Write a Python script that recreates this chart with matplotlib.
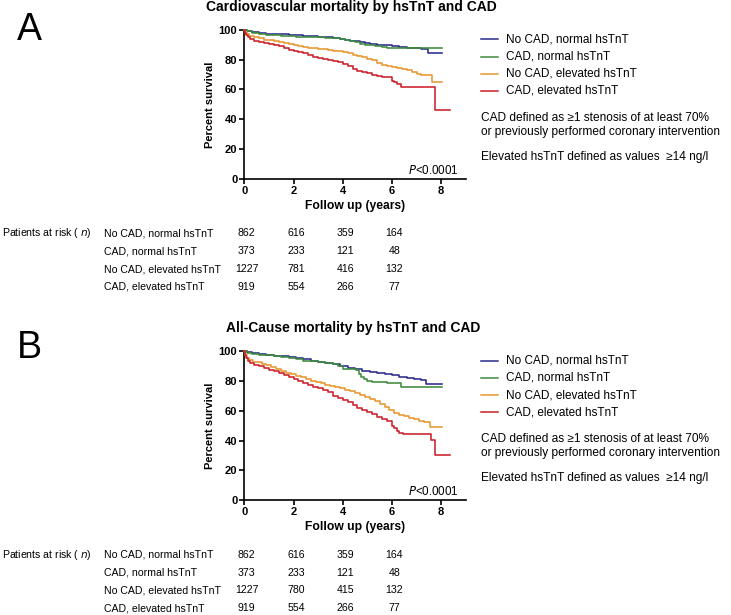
import matplotlib
matplotlib.use('Agg')
import matplotlib.pyplot as plt
from matplotlib.transforms import blended_transform_factory

plt.rcParams['font.family'] = ['Liberation Sans', 'DejaVu Sans']

W, H = 731, 615

# group names and colours
groups = ['No CAD, normal hsTnT', 'CAD, normal hsTnT',
          'No CAD, elevated hsTnT', 'CAD, elevated hsTnT']
colors = ['#2b2a8c', '#3d8b3d', '#e8962e', '#cc1f2b']

# panel A - cardiovascular mortality (time in years, percent survival)
blue_A_t = [0, .1, .3, .6, .9, 1.2, 1.5, 1.8, 2.1, 2.4, 2.7, 3.0, 3.3, 3.6, 3.9, 4.1, 4.3, 4.5, 4.7, 4.9,
            5.1, 5.4, 5.7, 6.0, 6.3, 6.6, 6.9, 7.2, 7.45, 8.05]
blue_A = [100, 99.2, 98.6, 98, 97.6, 97.3, 97.1, 96.9, 96.7, 96.3, 95.9, 95.5, 95.1, 94.7, 94.2, 93.6, 92.9,
          92.3, 91.6, 91.1, 90.6, 90.2, 89.7, 89.2, 88.7, 88.2, 87.6, 87.0, 84.4, 84.4]
green_A_t = [0, .1, .3, .6, .9, 1.2, 1.5, 1.8, 2.1, 2.4, 2.7, 3.0, 3.3, 3.6, 3.9, 4.1, 4.3, 4.5, 4.7, 4.9,
             5.3, 5.6, 5.8, 8.05]
green_A = [100, 99, 98.3, 97.5, 96.9, 96.4, 96, 95.7, 95.6, 95.5, 95.4, 95.2, 94.9, 94.5, 94, 93.4, 92.6,
           91.8, 90.9, 89.6, 89.2, 88.3, 87.8, 87.7]
orange_A_t = [0, .03, .1, .2, .4, .6, .8, 1.0, 1.2, 1.4, 1.6, 1.8, 2.0, 2.2, 2.4, 2.6, 2.8, 3.0, 3.2, 3.4,
              3.6, 3.8, 4.0, 4.2, 4.4, 4.6, 4.8, 5.0, 5.2, 5.4, 5.6, 5.8, 6.0, 6.2, 6.4, 6.6, 6.8, 7.0,
              7.2, 7.4, 7.65, 8.05]
orange_A = [100, 98.5, 97, 96, 95, 94.4, 93.6, 93, 92.3, 91.7, 91, 90.3, 89.8, 89.2, 88.7, 88.2, 87.7, 87.3,
            86.9, 86.5, 86.2, 85.8, 85.2, 84.3, 83.5, 82.6, 81.8, 80.8, 79.5, 78, 76.5, 75.6, 75.3, 74.6,
            73.5, 73, 72, 70.5, 69.8, 69.7, 65.2, 65.2]
red_A_t = [0, .03, .08, .15, .25, .4, .6, .8, 1.0, 1.2, 1.4, 1.6, 1.8, 2.0, 2.2, 2.4, 2.6, 2.8, 3.0, 3.2,
           3.4, 3.6, 3.8, 4.0, 4.2, 4.4, 4.6, 4.8, 5.0, 5.2, 5.4, 5.6, 5.8, 6.0, 6.1, 6.2, 6.35, 7.75, 8.35]
red_A = [100, 98, 96.5, 95.5, 94, 92.8, 91.8, 91, 90.5, 90, 89.3, 88, 86.7, 85.8, 85.2, 84.5, 83.3, 82,
         81.3, 80.8, 79.8, 79, 78.3, 77.3, 75.5, 73.5, 72.3, 71.8, 71, 69.5, 68.8, 68.6, 68.4, 65.5, 64.8,
         64, 62, 46.5, 46.5]

# panel B - all-cause mortality
blue_B_t = [0, .1, .3, .6, .9, 1.2, 1.5, 1.8, 2.1, 2.4, 2.7, 3.0, 3.3, 3.6, 3.9, 4.2, 4.5, 4.8, 5.1, 5.4,
            5.7, 6.0, 6.3, 6.6, 6.9, 7.2, 7.4, 8.05]
blue_B = [100, 99.2, 98.6, 98, 97.5, 97, 96.6, 96.2, 95.6, 94.6, 93.6, 92.7, 92.1, 91.3, 90.3, 89.1, 88.1,
          87, 86.2, 85.3, 84.6, 83.9, 83, 82, 81.2, 80.5, 78, 78]
green_B_t = [0, .1, .3, .6, .9, 1.2, 1.5, 1.8, 2.1, 2.4, 2.7, 3.0, 3.3, 3.6, 3.8, 4.0, 4.3, 4.55, 4.65,
             4.75, 4.85, 5.0, 5.2, 5.8, 6.35, 8.05]
green_B = [100, 99, 98.4, 97.8, 97.3, 96.8, 96.2, 95.5, 94.5, 93.8, 93.5, 93.1, 92.4, 91.5, 90, 88.4, 88.2,
           87.6, 85, 83, 81.5, 80.3, 79.4, 78.7, 76.3, 75.8]
orange_B_t = [0, .03, .1, .2, .35, .5, .7, .9, 1.1, 1.3, 1.5, 1.7, 1.9, 2.1, 2.3, 2.5, 2.7, 2.9, 3.1, 3.3,
              3.5, 3.7, 3.9, 4.1, 4.3, 4.5, 4.7, 4.9, 5.1, 5.3, 5.5, 5.7, 5.9, 6.1, 6.3, 6.5, 6.7, 6.9,
              7.1, 7.3, 7.55, 8.05]
orange_B = [100, 97.5, 95.5, 94, 93, 92.5, 91.7, 90.7, 89.5, 88.3, 87, 85.6, 84.5, 83.3, 82.4, 81.3, 80.2,
            79.2, 78.4, 77.5, 76.8, 76, 75, 74, 73, 71.7, 70.5, 69.2, 68, 66.5, 64.8, 62.8, 60.5, 58.5, 57,
            56.2, 55, 54.2, 53.2, 52.5, 49.2, 49.2]
red_B_t = [0, .03, .08, .15, .25, .4, .6, .8, 1.0, 1.2, 1.4, 1.6, 1.8, 2.0, 2.2, 2.4, 2.6, 2.8, 3.0, 3.2,
           3.4, 3.6, 3.8, 4.0, 4.2, 4.4, 4.6, 4.8, 5.0, 5.2, 5.4, 5.6, 5.8, 6.0, 6.1, 6.2, 6.3, 6.45, 7.6,
           7.75, 8.35]
red_B = [100, 97.5, 95.5, 93.5, 92.3, 91, 89.8, 88.7, 87.6, 86.6, 85.5, 84.3, 82.8, 81.3, 79.8, 78.6, 77.5,
         76.3, 75, 73.8, 72.3, 70.2, 68.4, 67.2, 65.6, 64, 62.2, 60.7, 59.5, 57.5, 55.8, 54.3, 53.2, 50,
         48.2, 46.2, 45, 44.5, 40.3, 30.2, 30.2]

# numbers at risk at 0, 2, 4, 6 years
risk_years = [0, 2, 4, 6]
risk_A = [[862, 616, 359, 164], [373, 233, 121, 48], [1227, 781, 416, 132], [919, 554, 266, 77]]
risk_B = [[862, 616, 359, 164], [373, 233, 121, 48], [1227, 780, 415, 132], [919, 554, 266, 77]]

notes = ['CAD defined as \u22651 stenosis of at least 70%\nor previously performed coronary intervention',
         'Elevated hsTnT defined as values  \u226514 ng/l']


def fx(px):
    return px / W


def fy(py):
    return 1 - py / H


fig = plt.figure(figsize=(W / 100, H / 100), dpi=100)


def panel(letter, title, top, letter_base, title_x, curves, risk):
    bottom = top + 148.7
    ax = fig.add_axes([fx(244.3), fy(bottom), fx(465.7) - fx(244.3), fy(top) - fy(bottom)])
    for (t, s), c in zip(curves, colors):
        ax.step(t, s, where='post', color=c, lw=1.15, clip_on=False, zorder=3)
    ax.set_xlim(0, 9)
    ax.set_ylim(0, 100)
    ax.set_xticks([0, 2, 4, 6, 8])
    ax.set_yticks([0, 20, 40, 60, 80, 100])
    for sp in ['top', 'right']:
        ax.spines[sp].set_visible(False)
    for sp in ['left', 'bottom']:
        ax.spines[sp].set_linewidth(1.2)
    ax.tick_params(width=1.2, length=3.5, pad=1.5, labelsize=8)
    for lab in ax.get_xticklabels() + ax.get_yticklabels():
        lab.set_fontweight('bold')
    ax.set_xlabel('Follow up (years)', fontsize=8.7, fontweight='bold', labelpad=3)
    ax.set_ylabel('Percent survival', fontsize=8, fontweight='bold', labelpad=3)
    ax.text(0.97, 0.055, r'$\it{P}$<0.0001', transform=ax.transAxes, ha='right', va='center', fontsize=8.4)

    fig.text(fx(17), fy(letter_base), letter, fontsize=27, ha='left', va='baseline')
    fig.text(fx(title_x), fy(top - 23), title, fontsize=10, fontweight='bold', ha='left', va='center')

    # legend
    for i, (g, c) in enumerate(zip(groups, colors)):
        y = fy(top + 9.3 + 17.2 * i)
        fig.add_artist(plt.Line2D([fx(481), fx(498)], [y, y], color=c, lw=1.1))
        fig.text(fx(506), y, g, fontsize=8.5, ha='left', va='center')
    fig.text(fx(481), fy(top + 95), notes[0], fontsize=8.6, ha='left', va='center', linespacing=1.25)
    fig.text(fx(481), fy(top + 126.7), notes[1], fontsize=8.6, ha='left', va='center')

    # patients at risk table
    tr = blended_transform_factory(ax.transData, fig.transFigure)
    row0 = bottom + 54.8
    fig.text(fx(2), fy(row0), 'Patients at risk ( $\\it{n}$)', fontsize=7.6, ha='left', va='center')
    for i, g in enumerate(groups):
        y = fy(row0 + 17.8 * i)
        fig.text(fx(104), y, g, fontsize=7.6, ha='left', va='center')
        for yr, n in zip(risk_years, risk[i]):
            fig.text(yr + 0.1, y, str(n), fontsize=7.6, ha='center', va='center', transform=tr)
    return ax


panel('A', 'Cardiovascular mortality by hsTnT and CAD', 30, 40, 206,
      [(blue_A_t, blue_A), (green_A_t, green_A), (orange_A_t, orange_A), (red_A_t, red_A)], risk_A)
panel('B', 'All-Cause mortality by hsTnT and CAD', 351.3, 358, 226,
      [(blue_B_t, blue_B), (green_B_t, green_B), (orange_B_t, orange_B), (red_B_t, red_B)], risk_B)

fig.savefig('out.png', dpi=100)
